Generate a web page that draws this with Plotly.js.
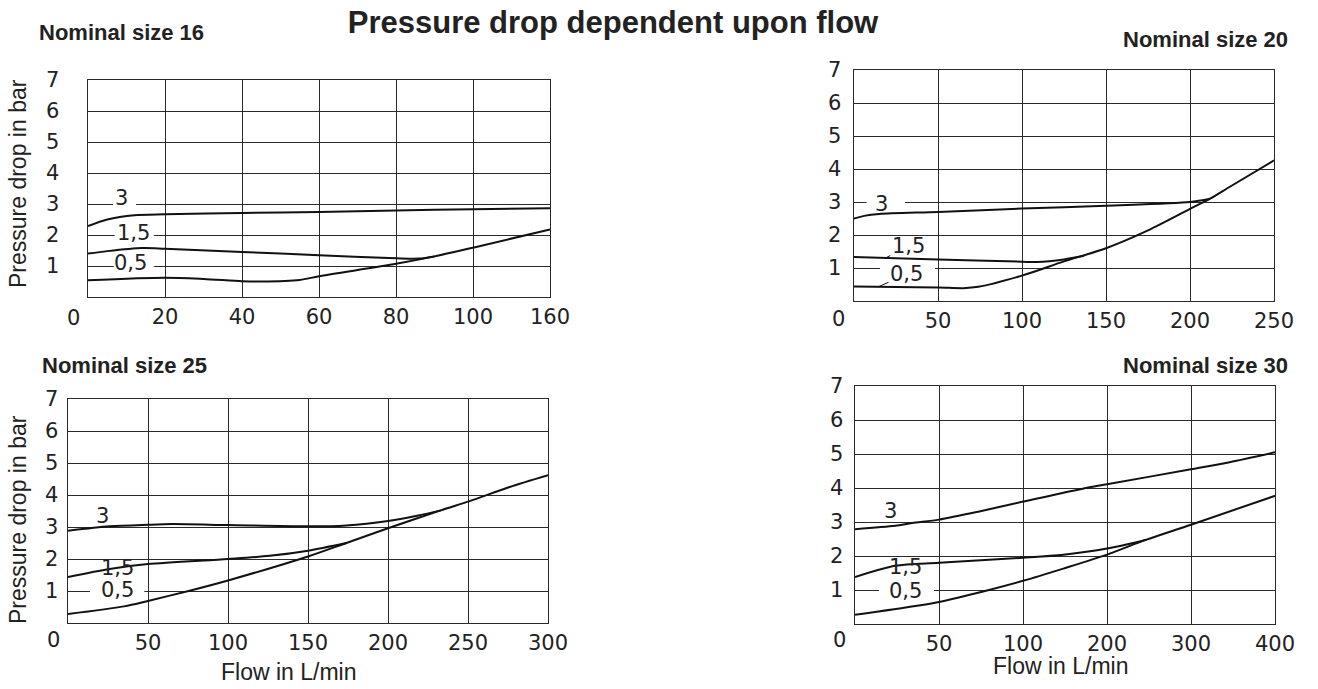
<!DOCTYPE html>
<html><head><meta charset="utf-8">
<script src="https://cdn.plot.ly/plotly-3.0.1.min.js"></script>
<style>html,body{margin:0;padding:0;background:#fff}#chart{width:1318px;height:689px}</style>
</head><body><div id="chart"></div>
<script>
// ---------- data ----------
const mainTitle = "Pressure drop dependent upon flow";
const yTitle = "Pressure drop in bar";
const xTitle = "Flow in L/min";
const yTicks = [1,2,3,4,5,6,7];

// Nominal size 16
const ticks16 = [0,20,40,60,80,100,160];
const flow16_3  = [0, 5, 12, 20, 40, 60, 80, 100, 160];
const dp16_3    = [2.29, 2.50, 2.64, 2.67, 2.71, 2.74, 2.79, 2.83, 2.86];
const flow16_15 = [0, 5, 14, 20, 40, 60, 80, 86, 90];
const dp16_15   = [1.40, 1.48, 1.58, 1.56, 1.45, 1.35, 1.25, 1.24, 1.31];
const flow16_05 = [0, 20, 30, 40, 45, 55, 60, 80, 90, 100, 160];
const dp16_05   = [0.54, 0.62, 0.58, 0.51, 0.50, 0.55, 0.67, 1.07, 1.31, 1.59, 2.18];

// Nominal size 20
const ticks20 = [0,50,100,150,200,250];
const flow20_3  = [0, 6, 15, 50, 100, 150, 200, 212];
const dp20_3    = [2.50, 2.58, 2.64, 2.70, 2.80, 2.89, 3.00, 3.10];
const flow20_15 = [0, 50, 100, 109, 125, 137];
const dp20_15   = [1.33, 1.26, 1.19, 1.18, 1.26, 1.37];
const flow20_05 = [0, 50, 65, 74, 100, 125, 150, 175, 200, 212, 224, 250];
const dp20_05   = [0.44, 0.41, 0.39, 0.43, 0.77, 1.20, 1.60, 2.14, 2.79, 3.10, 3.47, 4.26];

// Nominal size 25
const ticks25 = [0,50,100,150,200,250,300];
const flow25_3  = [0, 26, 50, 65, 100, 150, 174, 200, 219, 233];
const dp25_3    = [2.88, 3.02, 3.07, 3.09, 3.06, 3.02, 3.05, 3.19, 3.36, 3.52];
const flow25_15 = [0, 26, 50, 100, 126, 150, 174];
const dp25_15   = [1.44, 1.69, 1.84, 2.00, 2.10, 2.26, 2.50];
const flow25_05 = [0, 35, 50, 76, 100, 150, 174, 200, 233, 251, 276, 300];
const dp25_05   = [0.28, 0.52, 0.69, 1.01, 1.33, 2.08, 2.50, 2.96, 3.52, 3.81, 4.25, 4.62];

// Nominal size 30
const ticks30 = [0,50,100,200,300,400];
const flow30_3  = [0, 24, 34, 50, 74, 100, 171, 200, 300, 346, 400];
const dp30_3    = [2.79, 2.89, 2.97, 3.07, 3.31, 3.60, 3.98, 4.11, 4.55, 4.76, 5.05];
const flow30_15 = [0, 24, 50, 100, 148, 200, 247];
const dp30_15   = [1.38, 1.71, 1.80, 1.95, 2.04, 2.22, 2.48];
const flow30_05 = [0, 36, 50, 78, 100, 148, 200, 247, 300, 400];
const dp30_05   = [0.27, 0.53, 0.65, 0.98, 1.27, 1.63, 2.04, 2.48, 2.92, 3.77];

const curveLabels = ["3", "1,5", "0,5"];
const subTitles = ["Nominal size 16", "Nominal size 20", "Nominal size 25", "Nominal size 30"];

// ---------- helpers ----------
// flow -> position on the (non-uniform) grid whose columns are the tick values
function pos(f, ticks){
  for (let i = 1; i < ticks.length; i++){
    if (f <= ticks[i]) return (i-1) + (f - ticks[i-1])/(ticks[i]-ticks[i-1]);
  }
  return ticks.length-1;
}

const W = 1318, H = 689;
const panels = [
  {ticks: ticks16, curves: [[flow16_3,dp16_3],[flow16_15,dp16_15],[flow16_05,dp16_05]],
   px:[88, 550], py:[80, 297], ytl: 23, xlabShift: 21,
   labels:[{f:8.6,y:3.19},{f:11.7,y:2.05},{f:11.1,y:1.09}],
   gaps:[{f0:6.5,f1:12.5,g:3},{f0:6.9,f1:17.1,g:2},{f0:6.7,f1:17.1,g:1}],
   sub:{x:37, y:33, anchor:'left'}, ytitle:{x:18, y:184}},
  {ticks: ticks20, curves: [[flow20_3,dp20_3],[flow20_15,dp20_15],[flow20_05,dp20_05]],
   px:[854, 1274], py:[70, 301], ytl: 7, xlabShift: 18,
   labels:[{f:16.5,y:2.95,lf:21,ly:2.66},{f:32.3,y:1.66,lf:19.4,ly:1.32},{f:31.3,y:0.81,lf:14.5,ly:0.43}],
   gaps:[{f0:7.5,f1:30.4,g:3},{f0:15.5,f1:48.2,g:1}],
   sub:{x:1290, y:40, anchor:'right'}},
  {ticks: ticks25, curves: [[flow25_3,dp25_3],[flow25_15,dp25_15],[flow25_05,dp25_05]],
   px:[68, 548], py:[399, 623], ytl: 4, xlabShift: 17,
   labels:[{f:21.7,y:3.33},{f:30.7,y:1.72},{f:30.7,y:1.02}],
   gaps:[{f0:13.7,f1:47.7,g:1}],
   sub:{x:40, y:365, anchor:'left'}, ytitle:{x:18, y:520}, xtitle:{x:288, y:672}},
  {ticks: ticks30, curves: [[flow30_3,dp30_3],[flow30_15,dp30_15],[flow30_05,dp30_05]],
   px:[855, 1275], py:[386, 624], ytl: 6, xlabShift: 16,
   labels:[{f:21.3,y:3.31},{f:30.2,y:1.67},{f:30.2,y:0.98}],
   gaps:[{f0:14.3,f1:47,g:1}],
   sub:{x:1290, y:365, anchor:'right'}, xtitle:{x:1060, y:666}}
];

const tickFont = {family:"DejaVu Sans", size:21, color:"#222"};
const textFont = {family:"Liberation Sans, Arial, sans-serif", size:23, color:"#222"};
const gridCol = "#2a2a2a";

const traces = [], annotations = [], shapes = [];
const layout = {
  width:W, height:H, margin:{l:0,r:0,t:0,b:0},
  paper_bgcolor:"#fff", plot_bgcolor:"#fff", showlegend:false,
  annotations, shapes
};

panels.forEach((p, i) => {
  const n = i + 1;
  const xa = n === 1 ? 'xaxis' : 'xaxis' + n;
  const ya = n === 1 ? 'yaxis' : 'yaxis' + n;
  const xr = n === 1 ? 'x' : 'x' + n;
  const yr = n === 1 ? 'y' : 'y' + n;
  const nInt = p.ticks.length - 1;
  const tv = []; for (let k = 1; k <= nInt; k++) tv.push(k);
  layout[xa] = {
    domain: [p.px[0]/W, p.px[1]/W], anchor: yr, range:[0, nInt], fixedrange:true,
    tickmode:'array', tickvals: tv, ticktext: p.ticks.slice(1).map(String),
    ticks:'', showgrid:true, gridcolor:gridCol, gridwidth:1, zeroline:false,
    showline:true, mirror:true, linecolor:gridCol, linewidth:1.4,
    tickfont: tickFont
  };
  layout[ya] = {
    domain: [1 - p.py[1]/H, 1 - p.py[0]/H], anchor: xr, range:[0, 7], fixedrange:true,
    tickmode:'array', tickvals: yTicks, ticktext: yTicks.map(String),
    ticks:'outside', ticklen: p.ytl, tickcolor:'rgba(0,0,0,0)',
    showgrid:true, gridcolor:gridCol, gridwidth:1, zeroline:false,
    showline:true, mirror:true, linecolor:gridCol, linewidth:1.4,
    tickfont: tickFont
  };
  p.curves.forEach(([fl, dp]) => {
    traces.push({
      type:'scatter', mode:'lines', xaxis:xr, yaxis:yr,
      x: fl.map(f => pos(f, p.ticks)), y: dp,
      line:{color:'#111', width:2, shape:'spline', smoothing:0.8},
      hoverinfo:'skip'
    });
  });
  // origin "0" label
  annotations.push({xref:xr, yref:yr, x:0, y:0, xshift:-15, yshift:-p.xlabShift,
    text:"0", showarrow:false, font:tickFont, xanchor:'center', yanchor:'middle'});
  // curve labels
  p.labels.forEach((l, k) => {
    const a = {xref:xr, yref:yr, text:curveLabels[k], font:tickFont,
      xanchor:'center', yanchor:'middle'};
    if (l.lf !== undefined){
      a.x = pos(l.lf, p.ticks); a.y = l.ly;
      a.showarrow = true; a.arrowhead = 0; a.arrowwidth = 1; a.arrowcolor = '#111';
      a.axref = xr; a.ayref = yr; a.ax = pos(l.f, p.ticks); a.ay = l.y;
      a.standoff = 0;
    } else {
      a.x = pos(l.f, p.ticks); a.y = l.y; a.showarrow = false;
    }
    annotations.push(a);
  });
  // gaps in grid lines behind the labels
  p.gaps.forEach(g => {
    shapes.push({type:'rect', xref:xr, yref:yr, layer:'between',
      x0: pos(g.f0, p.ticks), x1: pos(g.f1, p.ticks), y0: g.g - 0.05, y1: g.g + 0.05,
      fillcolor:'#fff', line:{width:0}});
  });
  // subtitle
  annotations.push({xref:'paper', yref:'paper', x:p.sub.x/W, y:1 - p.sub.y/H,
    text:"<b>" + subTitles[i] + "</b>", showarrow:false,
    font:{family:"Liberation Sans, Arial, sans-serif", size:22, color:"#222"},
    xanchor:p.sub.anchor, yanchor:'middle'});
  if (p.ytitle){
    annotations.push({xref:'paper', yref:'paper', x:p.ytitle.x/W, y:1 - p.ytitle.y/H,
      text:yTitle, textangle:-90, showarrow:false, font:textFont,
      xanchor:'center', yanchor:'middle'});
  }
  if (p.xtitle){
    annotations.push({xref:'paper', yref:'paper', x:p.xtitle.x/W, y:1 - p.xtitle.y/H,
      text:xTitle, showarrow:false, font:textFont, xanchor:'center', yanchor:'middle'});
  }
});

layout.title = {text:"<b>" + mainTitle + "</b>", x:613/W, xanchor:'center',
  y:1 - 22/H, yanchor:'middle',
  font:{family:"Liberation Sans, Arial, sans-serif", size:31, color:"#222"}};

Plotly.newPlot('chart', traces, layout, {displayModeBar:false, staticPlot:true});
</script>
</body></html>
